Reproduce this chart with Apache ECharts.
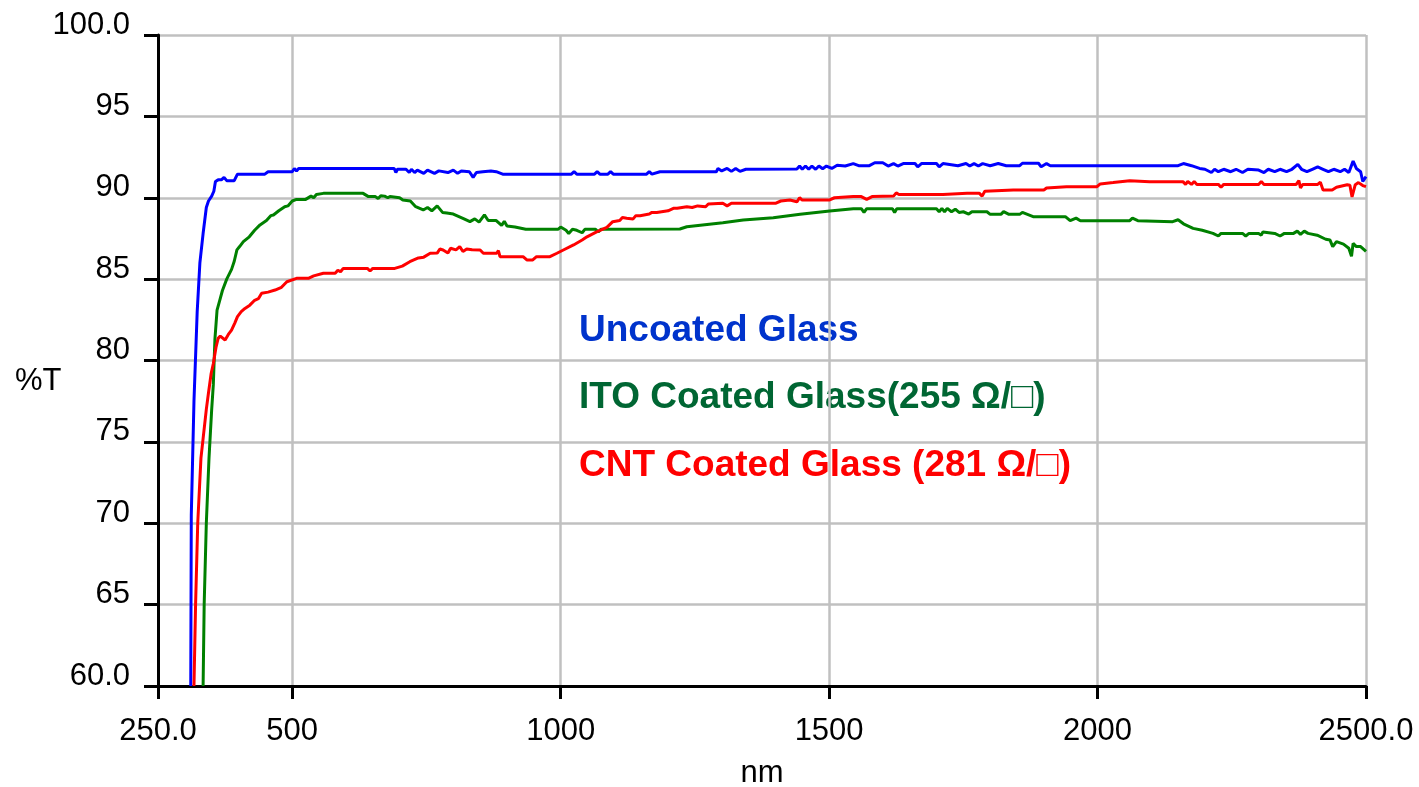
<!DOCTYPE html>
<html>
<head>
<meta charset="utf-8">
<script src="https://cdn.jsdelivr.net/npm/echarts@6/dist/echarts.min.js"></script>
<style>
html,body{margin:0;padding:0;background:#fff;}
#chart{width:1419px;height:787px;}
</style>
</head>
<body>
<div id="chart"></div>
<script>
// ---- Data (wavelength nm, %T) ----
const xTicks = [250, 500, 1000, 1500, 2000, 2500];
const xTickLabels = {250: '250.0', 500: '500', 1000: '1000', 1500: '1500', 2000: '2000', 2500: '2500.0'};
const yTickLabels = {60: '60.0', 65: '65', 70: '70', 75: '75', 80: '80', 85: '85', 90: '90', 95: '95', 100: '100.0'};

const seriesNames = ['Uncoated Glass', 'ITO Coated Glass(255 Ω/□)', 'CNT Coated Glass (281 Ω/□)'];

const uncoated = [
 [311,60],[312,70.5],[317,77.5],[323,83],[328,86],[334,87.8],[340,89.4],[344,89.8],[350,90.1],[354,90.4],
 [357,91.0],[362,91.1],[368,91.1],[373,91.25],[378,91.05],[392,91.05],[398,91.45],[449,91.45],[455,91.6],
 [500,91.6],[504,91.8],[508,91.65],[512,91.8],[690,91.8],[693,91.55],[696,91.75],[712,91.75],[718,91.55],
 [722,91.75],[728,91.55],[733,91.7],[745,91.5],[752,91.7],[765,91.5],[773,91.65],[790,91.55],[800,91.7],
 [808,91.5],[815,91.65],[830,91.6],[837,91.25],[843,91.55],[855,91.6],[870,91.65],[880,91.6],[892,91.45],
 [1020,91.45],[1025,91.6],[1030,91.45],[1063,91.45],[1068,91.6],[1073,91.45],[1088,91.45],[1093,91.6],
 [1098,91.45],[1160,91.45],[1165,91.6],[1170,91.45],[1185,91.6],[1290,91.6],[1293,91.8],[1300,91.65],
 [1310,91.8],[1318,91.62],[1326,91.8],[1334,91.62],[1345,91.75],[1440,91.77],[1445,91.95],[1450,91.75],
 [1456,91.95],[1462,91.75],[1468,91.95],[1475,91.75],[1481,91.95],[1488,91.78],[1495,91.95],[1505,91.8],
 [1515,92.0],[1530,91.95],[1545,92.1],[1555,91.97],[1575,91.97],[1585,92.15],[1600,92.15],[1610,91.95],
 [1620,92.1],[1628,91.95],[1638,92.1],[1660,92.1],[1665,91.9],[1672,92.1],[1700,92.1],[1705,91.9],
 [1712,92.1],[1740,91.97],[1755,92.1],[1762,91.95],[1770,92.1],[1778,91.95],[1786,92.1],[1800,91.97],
 [1815,92.1],[1830,91.97],[1855,91.97],[1860,92.12],[1890,92.12],[1895,91.9],[1905,92.1],[1912,91.97],
 [2150,91.97],[2160,92.1],[2175,91.97],[2190,91.8],[2200,91.75],[2212,91.55],[2218,91.75],[2225,91.6],
 [2235,91.75],[2248,91.6],[2258,91.75],[2270,91.55],[2280,91.75],[2300,91.7],[2310,91.55],[2318,91.75],
 [2330,91.6],[2340,91.75],[2352,91.6],[2362,91.75],[2373,92.05],[2380,91.75],[2390,91.6],[2400,91.75],
 [2410,91.9],[2420,91.75],[2430,91.6],[2440,91.75],[2452,91.6],[2460,91.75],[2468,91.55],[2476,92.25],
 [2482,91.8],[2490,91.6],[2494,91.0],[2500,91.3]
];

const itoCoated = [
 [334,60],[336,65],[340,70],[345,74],[350,77],[353,78.5],[356,81.3],[360,83.1],[365,83.7],[370,84.3],
 [378,85],[387,85.6],[392,86.1],[397,86.8],[402,87.0],[409,87.3],[420,87.6],[430,88.0],[440,88.33],
 [452,88.6],[460,88.9],[465,88.94],[475,89.2],[486,89.45],[492,89.5],[500,89.8],[508,89.9],[525,89.9],
 [535,90.1],[540,90.0],[545,90.2],[558,90.27],[632,90.27],[642,90.07],[655,90.07],[660,89.95],[665,90.12],
 [672,90.1],[678,90.0],[682,90.07],[700,90.0],[706,89.86],[720,89.8],[730,89.45],[744,89.25],[752,89.4],
 [760,89.2],[770,89.5],[780,89.1],[788,89.06],[800,89.0],[820,88.7],[831,88.53],[840,88.7],[848,88.5],
 [858,88.95],[865,88.6],[880,88.6],[890,88.3],[895,88.55],[900,88.26],[915,88.2],[935,88.06],[995,88.06],
 [1000,88.2],[1010,88.0],[1015,87.8],[1022,88.06],[1030,88.0],[1040,87.85],[1045,88.06],[1065,88.06],
 [1070,87.9],[1075,88.06],[1222,88.08],[1235,88.22],[1302,88.47],[1340,88.63],[1396,88.77],[1446,88.98],
 [1501,89.19],[1545,89.33],[1560,89.33],[1565,89.1],[1570,89.33],[1618,89.33],[1622,89.1],[1626,89.33],
 [1700,89.33],[1705,89.14],[1710,89.35],[1715,89.14],[1720,89.35],[1728,89.14],[1735,89.3],[1742,89.1],
 [1750,89.14],[1760,89.0],[1766,89.14],[1794,89.14],[1800,88.98],[1820,88.98],[1825,89.15],[1835,88.98],
 [1855,88.98],[1860,89.1],[1880,88.84],[1940,88.84],[1949,88.59],[1960,88.75],[1968,88.59],[2060,88.59],
 [2065,88.75],[2075,88.59],[2140,88.53],[2150,88.65],[2160,88.4],[2178,88.12],[2195,88.0],[2215,87.81],
 [2225,87.65],[2230,87.81],[2270,87.81],[2276,87.65],[2282,87.81],[2300,87.81],[2305,87.7],[2308,87.9],
 [2330,87.81],[2340,87.65],[2348,87.81],[2365,87.81],[2372,87.95],[2378,87.75],[2385,87.95],[2392,87.81],
 [2409,87.7],[2425,87.45],[2433,87.4],[2438,87.0],[2445,87.3],[2458,87.15],[2468,86.9],[2473,86.4],
 [2476,87.2],[2482,87.0],[2490,87.0],[2500,86.7]
];

const cntCoated = [
 [317,60],[320,65],[324,70],[330,74],[334,75.2],[340,77],[344,78],[349,79.2],[353,79.8],[358,80.8],
 [362,81.36],[366,81.5],[369,81.57],[375,81.26],[381,81.6],[387,81.87],[393,82.3],[398,82.7],[405,83.0],
 [412,83.2],[421,83.4],[430,83.7],[437,83.8],[443,84.13],[455,84.2],[468,84.33],[480,84.5],[490,84.84],
 [508,85.05],[530,85.05],[540,85.2],[558,85.36],[580,85.36],[585,85.55],[590,85.45],[595,85.66],[640,85.66],
 [645,85.5],[650,85.66],[691,85.66],[705,85.8],[719,86.07],[735,86.3],[745,86.35],[757,86.59],[770,86.6],
 [775,86.85],[781,86.79],[790,86.6],[795,86.9],[805,86.8],[812,87.0],[818,86.7],[825,86.85],[835,86.8],
 [850,86.79],[856,86.59],[881,86.59],[884,86.75],[887,86.38],[930,86.38],[937,86.18],[948,86.18],[955,86.38],
 [980,86.38],[993,86.59],[1005,86.79],[1024,87.1],[1040,87.4],[1049,87.6],[1067,87.9],[1086,88.18],
 [1097,88.53],[1110,88.6],[1115,88.78],[1123,88.74],[1135,88.7],[1140,88.9],[1148,88.9],[1165,89.0],
 [1170,89.1],[1179,89.1],[1200,89.2],[1210,89.35],[1217,89.35],[1235,89.45],[1245,89.4],[1255,89.5],
 [1270,89.45],[1275,89.62],[1302,89.66],[1310,89.5],[1318,89.66],[1400,89.66],[1410,89.8],[1427,89.86],
 [1440,89.75],[1445,90.0],[1450,89.86],[1500,89.86],[1510,90.0],[1545,90.07],[1560,90.07],[1570,89.9],
 [1580,90.07],[1620,90.1],[1625,90.3],[1630,90.2],[1712,90.2],[1757,90.27],[1780,90.27],[1785,90.1],
 [1790,90.4],[1843,90.48],[1900,90.48],[1905,90.6],[1942,90.68],[1999,90.68],[2005,90.85],[2029,90.93],
 [2060,91.05],[2097,90.99],[2159,90.99],[2164,90.82],[2168,91.0],[2175,90.82],[2180,91.0],[2185,90.82],
 [2225,90.82],[2230,90.65],[2235,90.82],[2300,90.82],[2305,91.0],[2310,90.82],[2370,90.82],[2375,91.05],
 [2378,90.6],[2382,90.82],[2410,90.82],[2415,90.95],[2420,90.48],[2437,90.48],[2445,90.65],[2465,90.8],
 [2470,90.77],[2474,90.05],[2480,90.8],[2486,90.93],[2494,90.75],[2500,90.68]
];

const lineColors = ['#0000ff', '#008000', '#ff0000'];
const textColors = ['#0033cc', '#006633', '#ff0000'];

const chart = echarts.init(document.getElementById('chart'), null, {renderer: 'canvas'});
const FONT = '"Liberation Sans", Arial, sans-serif';

chart.setOption({
  animation: false,
  backgroundColor: '#ffffff',
  grid: {left: 158, right: 53, top: 35, bottom: 101, outerBoundsMode: 'none', containLabel: false},
  xAxis: {
    type: 'value', min: 250, max: 2500, interval: 250,
    name: 'nm', nameLocation: 'middle', nameGap: 72,
    nameTextStyle: {fontFamily: FONT, fontSize: 31, color: '#000', lineHeight: 31},
    axisLine: {onZero: false, lineStyle: {color: '#000', width: 3}},
    axisTick: {show: true, length: 13, customValues: xTicks, lineStyle: {color: '#000', width: 3}},
    axisLabel: {customValues: xTicks, margin: 30, fontFamily: FONT, fontSize: 31, color: '#000', lineHeight: 31,
      formatter: v => xTickLabels[v] !== undefined ? xTickLabels[v] : ''},
    splitLine: {show: true, lineStyle: {color: '#c0c0c0', width: 2.5}}
  },
  yAxis: {
    type: 'value', min: 60, max: 100, interval: 5,
    axisLine: {show: true, onZero: false, lineStyle: {color: '#000', width: 3}},
    axisTick: {show: true, length: 14, lineStyle: {color: '#000', width: 3}},
    axisLabel: {margin: 28, fontFamily: FONT, fontSize: 31, color: '#000', lineHeight: 20, verticalAlign: 'bottom',
      formatter: v => yTickLabels[v] !== undefined ? yTickLabels[v] : ''},
    splitLine: {show: true, lineStyle: {color: '#c0c0c0', width: 2.5}}
  },
  graphic: [
    {type: 'text', x: 15, y: 381, style: {text: '%T', fill: '#000', font: '31px ' + FONT, verticalAlign: 'middle'}},
    {type: 'text', x: 579, y: 331, style: {text: seriesNames[0], fill: textColors[0], font: 'bold 37px ' + FONT, verticalAlign: 'middle'}},
    {type: 'text', x: 579, y: 398, style: {text: seriesNames[1], fill: textColors[1], font: 'bold 37px ' + FONT, verticalAlign: 'middle'}},
    {type: 'text', x: 579, y: 466, style: {text: seriesNames[2], fill: textColors[2], font: 'bold 37px ' + FONT, verticalAlign: 'middle'}}
  ],
  series: [
    {name: seriesNames[0], type: 'line', data: uncoated, showSymbol: false, lineStyle: {color: lineColors[0], width: 3}, z: 5},
    {name: seriesNames[1], type: 'line', data: itoCoated, showSymbol: false, lineStyle: {color: lineColors[1], width: 3}, z: 4},
    {name: seriesNames[2], type: 'line', data: cntCoated, showSymbol: false, lineStyle: {color: lineColors[2], width: 3}, z: 6}
  ]
});
</script>
</body>
</html>
